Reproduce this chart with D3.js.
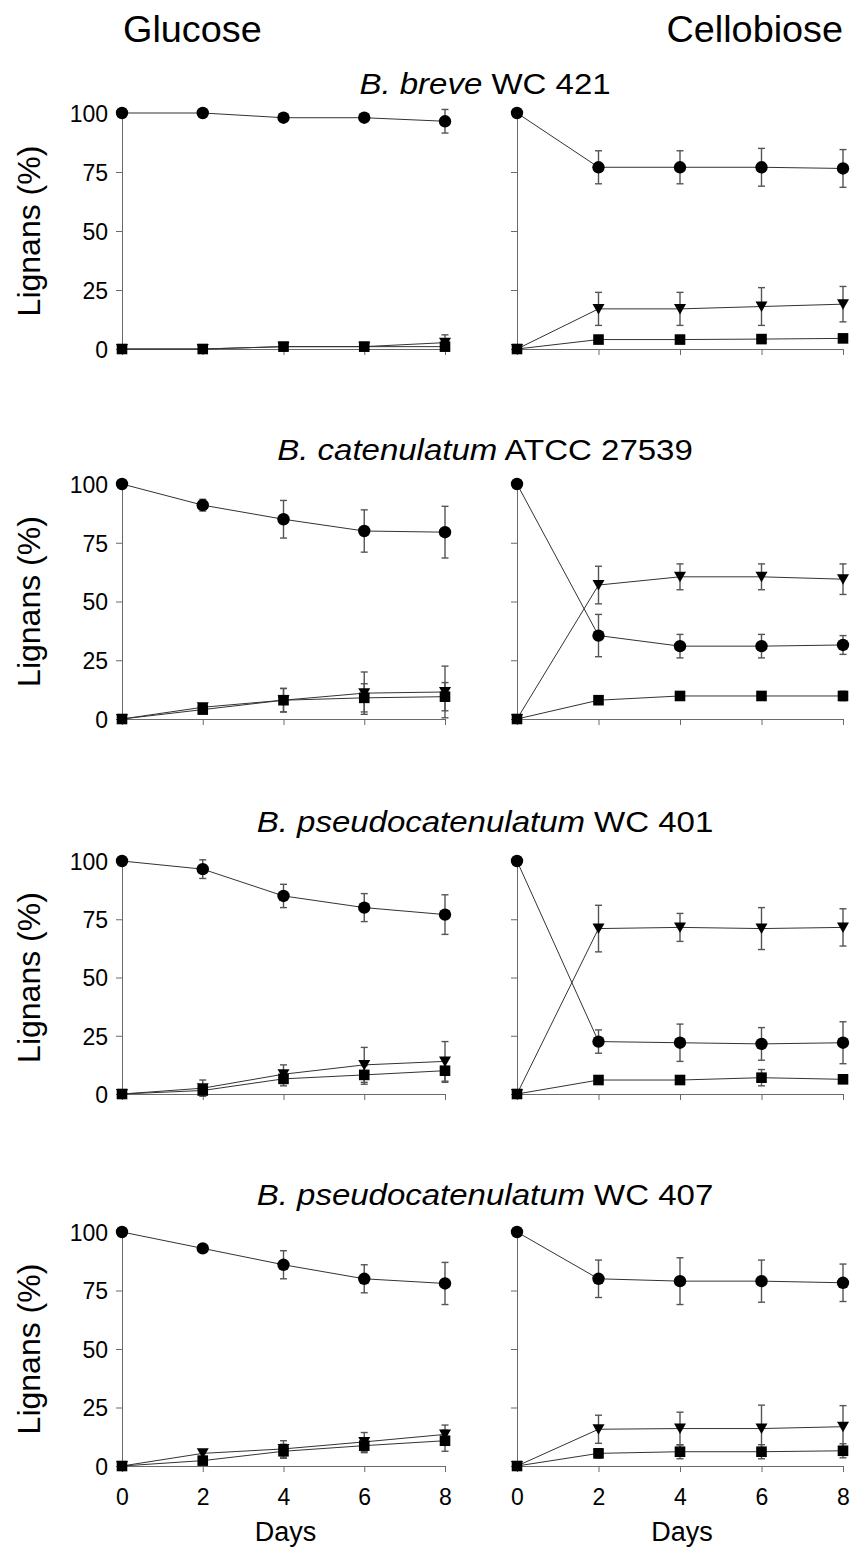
<!DOCTYPE html>
<html>
<head>
  <meta charset="utf-8">
  <script src="https://d3js.org/d3.v7.min.js"></script>
  <style>
  body { margin: 0; background: #fff; }
  * { font-family: "Liberation Sans", Arial, sans-serif; }
  </style>
</head>
<body>
<div id="chart"></div>
<script>
// ---- data (series order: circle, triangle, square) ----
const days = [0, 2, 4, 6, 8];
const yTicks = [0, 25, 50, 75, 100];
const media = ["Glucose", "Cellobiose"];
const strainItalic = ["B. breve", "B. catenulatum", "B. pseudocatenulatum", "B. pseudocatenulatum"];
const strainCode = ["WC 421", "ATCC 27539", "WC 401", "WC 407"];
const shapes = ["circle", "triangle", "square"];

const breveGlu     = [[100, 100, 98, 98, 96.5], [0, 0, 1, 1, 2.7], [0, 0, 1, 1, 1]];
const breveGluSd   = [[0, 0, 0, 0, 5], [0, 0, 0, 0, 3.3], [0, 0, 0, 0, 0]];
const breveCel     = [[100, 77, 77, 77, 76.5], [0, 17, 17, 18, 19], [0, 4, 4, 4.2, 4.5]];
const breveCelSd   = [[0, 7, 7, 8, 8], [0, 7, 7, 8, 7.5], [0, 0, 0, 0, 0]];

const catenGlu     = [[100, 91, 85, 80, 79.5], [0, 5, 8, 11, 11.5], [0, 4, 8, 9, 9.5]];
const catenGluSd   = [[0, 2.5, 8, 9, 11], [0, 0, 5, 9, 11], [0, 0, 5, 6, 6]];
const catenCel     = [[100, 35.5, 31, 31, 31.5], [0, 57, 60.5, 60.5, 59.5], [0, 8, 9.8, 9.8, 9.8]];
const catenCelSd   = [[0, 9, 5, 5, 4], [0, 8, 5.5, 5.5, 6.5], [0, 0, 1, 1, 2]];

const pseudo401Glu   = [[100, 96.5, 85, 80, 77], [0, 2.5, 8.5, 12.5, 14], [0, 1.5, 6.5, 8.2, 10]];
const pseudo401GluSd = [[0, 4, 5, 6, 8.5], [0, 3.5, 4, 7.5, 8.5], [0, 0, 3, 4, 5]];
const pseudo401Cel   = [[100, 22.5, 22, 21.5, 22], [0, 71, 71.5, 71, 71.5], [0, 6, 6, 7, 6.3]];
const pseudo401CelSd = [[0, 5, 8, 7, 9], [0, 10, 6, 9, 8], [0, 0, 0, 3.5, 0]];

const pseudo407Glu   = [[100, 93, 86, 80, 78], [0, 5.4, 7.3, 10.3, 13.5], [0, 2.3, 6.3, 8.7, 10.8]];
const pseudo407GluSd = [[0, 0, 6, 6, 9], [0, 0, 3.5, 4, 4], [0, 0, 3, 3, 4.5]];
const pseudo407Cel   = [[100, 80, 79, 79, 78.3], [0, 15.7, 16, 16, 16.8], [0, 5.4, 6.1, 6.1, 6.5]];
const pseudo407CelSd = [[0, 8, 10, 9, 8], [0, 6, 7, 10, 9], [0, 2, 3, 3, 3]];

const panels = [
  [[breveGlu, breveGluSd], [breveCel, breveCelSd]],
  [[catenGlu, catenGluSd], [catenCel, catenCelSd]],
  [[pseudo401Glu, pseudo401GluSd], [pseudo401Cel, pseudo401CelSd]],
  [[pseudo407Glu, pseudo407GluSd], [pseudo407Cel, pseudo407CelSd]]
];

// ---- layout ----
const W = 860, H = 1547;
const colX = [[122, 445], [517, 843]];
const rowY = [[349, 113], [719, 484], [1094, 861], [1466, 1232]];
const titleY = [94, 460, 832, 1205];
const titleX = 485;
const axisColor = "#6a6a6a";

const svg = d3.select("#chart")
              .append("svg")
              .attr("width", W)
              .attr("height", H);

// column headers
svg.append("text")
   .attr("transform", "translate(123,42) scale(1.05,1)")
   .style("font-size", "36px")
   .text(media[0]);
svg.append("text")
   .attr("transform", "translate(843,42) scale(1.05,1)")
   .attr("text-anchor", "end")
   .style("font-size", "36px")
   .text(media[1]);

function marker(g, shape, cx, cy) {
  if (shape === "circle") {
    g.append("circle").attr("cx", cx).attr("cy", cy).attr("r", 6.2).attr("fill", "#000");
  } else if (shape === "square") {
    g.append("rect").attr("x", cx - 5.3).attr("y", cy - 5.3)
     .attr("width", 10.6).attr("height", 10.6).attr("fill", "#000");
  } else {
    g.append("path")
     .attr("d", `M${cx - 6},${cy - 5}L${cx + 6},${cy - 5}L${cx},${cy + 5.5}Z`)
     .attr("fill", "#000");
  }
}

panels.forEach(function(row, r) {
  // strain title
  const t = svg.append("text")
               .attr("transform", `translate(${titleX},${titleY[r]}) scale(1.1,1)`)
               .attr("text-anchor", "middle")
               .style("font-size", "30px");
  t.append("tspan").style("font-style", "italic").text(strainItalic[r]);
  t.append("tspan").text(" " + strainCode[r]);

  // y label
  svg.append("text")
     .attr("transform", `translate(40,${(rowY[r][0] + rowY[r][1]) / 2}) rotate(-90)`)
     .attr("text-anchor", "middle")
     .style("font-size", "32px")
     .text("Lignans (%)");

  row.forEach(function(panel, c) {
    const x = d3.scaleLinear().domain([0, 8]).range(colX[c]);
    const y = d3.scaleLinear().domain([0, 100]).range(rowY[r]);
    const g = svg.append("g");

    // y axis
    const ya = g.append("g")
                .attr("transform", `translate(${colX[c][0]},0)`)
                .call(d3.axisLeft(y).tickValues(yTicks).tickSize(6).tickSizeOuter(0).tickPadding(8));
    ya.selectAll("path, line").attr("stroke", axisColor);
    ya.selectAll("text").style("font-size", "23px").attr("fill", "#000")
      .attr("dy", "0.36em");
    if (c === 1) ya.selectAll("text").remove();

    // x axis
    const xa = g.append("g")
                .attr("transform", `translate(0,${rowY[r][0]})`)
                .call(d3.axisBottom(x).tickValues(days).tickSize(6).tickSizeOuter(0).tickPadding(17));
    xa.selectAll("path, line").attr("stroke", axisColor);
    xa.selectAll("text").style("font-size", "23px").attr("fill", "#000");
    if (r !== 3) xa.selectAll("text").remove();

    const values = panel[0], sds = panel[1];

    // connecting lines
    values.forEach(function(vals) {
      g.append("path")
       .datum(vals)
       .attr("fill", "none")
       .attr("stroke", "#333")
       .attr("stroke-width", 1)
       .attr("d", d3.line().x(function(d, i) { return x(days[i]); }).y(function(d) { return y(d); }));
    });

    // error bars
    values.forEach(function(vals, s) {
      vals.forEach(function(v, i) {
        const sd = sds[s][i];
        if (!sd) return;
        const cx = x(days[i]);
        const y1 = y(v - sd), y2 = y(v + sd);
        g.append("line").attr("x1", cx).attr("x2", cx).attr("y1", y1).attr("y2", y2)
         .attr("stroke", "#555").attr("stroke-width", 1.4);
        [y1, y2].forEach(function(yy) {
          g.append("line").attr("x1", cx - 3.5).attr("x2", cx + 3.5).attr("y1", yy).attr("y2", yy)
           .attr("stroke", "#555").attr("stroke-width", 1.4);
        });
      });
    });

    // markers
    values.forEach(function(vals, s) {
      vals.forEach(function(v, i) {
        marker(g, shapes[s], x(days[i]), y(v));
      });
    });

    // x title on bottom row
    if (r === 3) {
      svg.append("text")
         .attr("x", (colX[c][0] + colX[c][1]) / 2 + 2)
         .attr("y", 1541)
         .attr("text-anchor", "middle")
         .style("font-size", "27px")
         .text("Days");
    }
  });
});
</script>
</body>
</html>
